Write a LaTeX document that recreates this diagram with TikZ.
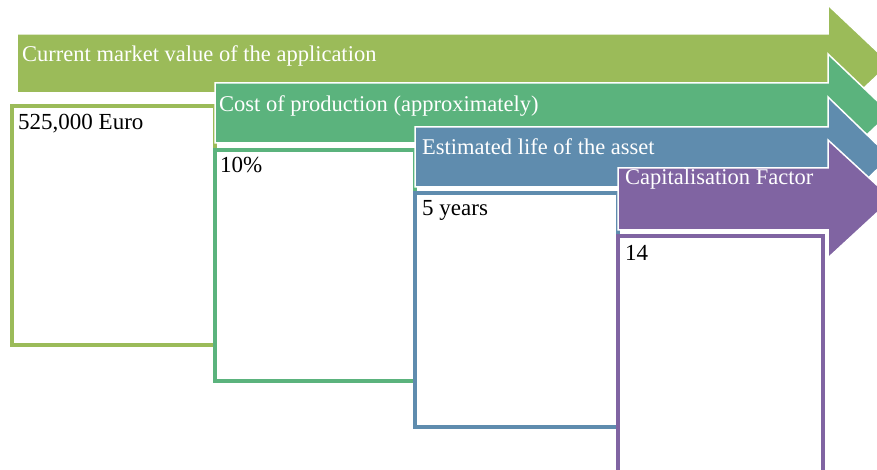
\documentclass[tikz,border=0pt]{standalone}
\usepackage{fontspec}
\setmainfont{Liberation Serif}
\definecolor{stepolive}{HTML}{9BBB59}
\definecolor{stepgreen}{HTML}{5BB37D}
\definecolor{stepblue}{HTML}{5F8CAE}
\definecolor{steppurple}{HTML}{8064A2}

\begin{document}
\begin{tikzpicture}[x=1pt,y=-1pt,
  valuebox/.style={draw=#1,line width=3.5pt,fill=white},
  steparrow/.style={fill=#1,draw=white,line width=1.5pt,line join=miter},
  heading/.style={text=white,anchor=base west,inner sep=0pt,font=\fontsize{22.5}{26}\selectfont},
  entry/.style={anchor=base west,inner sep=0pt,font=\fontsize{23}{27}\selectfont}]
\clip (0,0) rectangle (877,470);
\fill[white] (0,0) rectangle (877,470);

\draw[valuebox=stepolive] (12,106) rectangle (215,345);
\draw[steparrow=stepolive] (17,34) -- (828,34) -- (828,5) -- (890,63.5) -- (828,122) -- (828,93) -- (17,93) -- cycle;
\node[heading] (current) at (22,62) {Current market value of the application};
\node[entry] (value) at (18,130) {525,000 Euro};

\draw[valuebox=stepgreen] (215,150) rectangle (415,381);
\draw[steparrow=stepgreen] (215,83) -- (828,83) -- (828,54) -- (890,113) -- (828,172) -- (828,143) -- (215,143) -- cycle;
\node[heading] (cost) at (219,112) {Cost of production (approximately)};
\node[entry] (percent) at (220,173) {10\%};

\draw[valuebox=stepblue] (415,193) rectangle (618,427);
\draw[steparrow=stepblue] (415,127) -- (828,127) -- (828,97) -- (890,157) -- (828,217) -- (828,187) -- (415,187) -- cycle;
\node[heading] (life) at (422,155) {Estimated life of the asset};
\node[entry] (years) at (422,216) {5 years};

\draw[valuebox=steppurple] (618,236) rectangle (823,490);
\draw[steparrow=steppurple] (618,168) -- (828,168) -- (828,140) -- (892,199) -- (828,258) -- (828,230) -- (618,230) -- cycle;
\node[heading] (factor) at (625,185) {Capitalisation Factor};
\node[entry] (factorvalue) at (625,260) {14};
\end{tikzpicture}
\end{document}
